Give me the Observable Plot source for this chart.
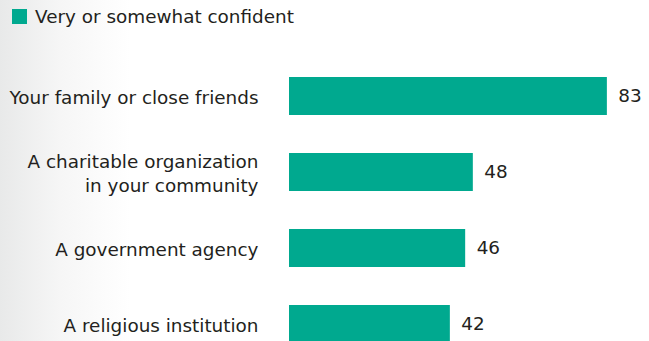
<!DOCTYPE html>
<html>
<head>
<meta charset="utf-8">
<script src="https://cdn.jsdelivr.net/npm/d3@7"></script>
<script src="https://cdn.jsdelivr.net/npm/@observablehq/plot@0.6"></script>
<style>
  html, body { margin: 0; padding: 0; width: 649px; height: 341px; overflow: hidden; }
  body { background: linear-gradient(to right, #e8e9e9 0px, #f6f6f6 60px, #ffffff 130px); font-family: "DejaVu Sans", sans-serif; color: #231f20; }
  #legend { position: absolute; left: 12px; top: 6px; display: flex; align-items: center; font-size: 18.4px; }
  #legend .sw { width: 15px; height: 15px; background: #00a98f; margin-right: 8px; }
  #chart { position: absolute; left: 0; top: 39px; line-height: 0; }
  svg { overflow: visible; }
</style>
</head>
<body>
<div id="legend"><span class="sw"></span><span id="legtext"></span></div>
<div id="chart"></div>
<script>
const seriesName = "Very or somewhat confident";
const categories = [
  "Your family or close friends",
  "A charitable organization\nin your community",
  "A government agency",
  "A religious institution"
];
const values = [83, 48, 46, 42];

document.getElementById("legtext").textContent = seriesName;
const data = categories.map((c, i) => ({category: c, value: values[i]}));

const chart = Plot.plot({
  width: 649,
  height: 342,
  marginLeft: 289,
  marginRight: 0,
  marginTop: 0,
  marginBottom: 0,
  style: {background: "transparent", fontFamily: "'DejaVu Sans', sans-serif", color: "#231f20"},
  x: {domain: [0, 94], axis: null},
  y: {domain: categories, paddingInner: 0.5, paddingOuter: 0.5, round: false, label: null},
  marks: [
    Plot.barX(data, {x: "value", y: "category", fill: "#00a98f"}),
    Plot.text(data, {x: "value", y: "category", text: d => String(d.value), dx: 11, textAnchor: "start", fontSize: 18.4, fill: "#231f20"}),
    Plot.axisY({tickSize: 0, tickPadding: 31, fontSize: 18.4, label: null, fill: "#231f20", lineHeight: 1.3})
  ]
});
document.getElementById("chart").appendChild(chart);
</script>
</body>
</html>
